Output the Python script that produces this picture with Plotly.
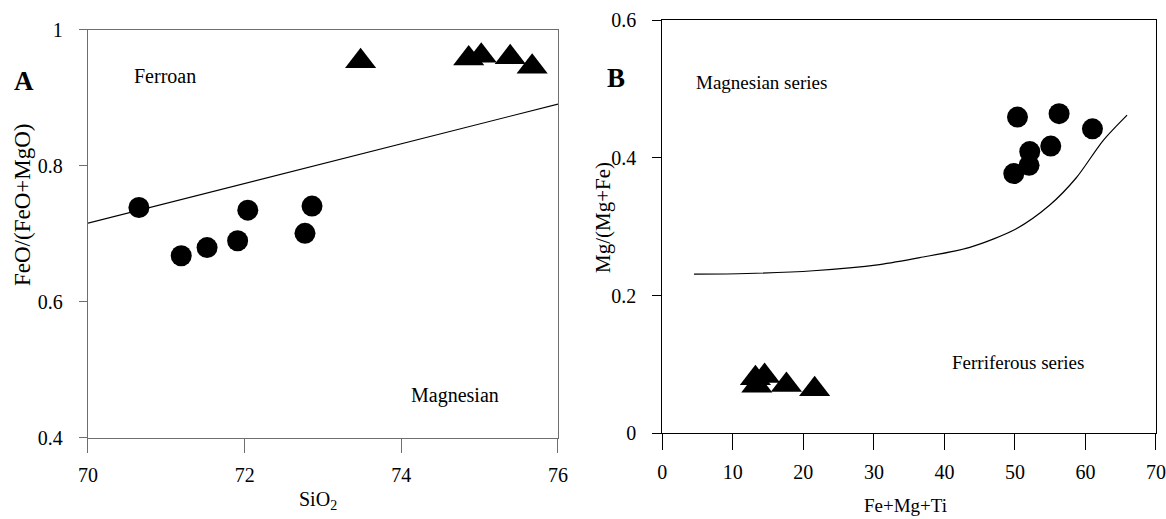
import plotly.graph_objects as go

# ---- Panel A: SiO2 vs FeO/(FeO+MgO) ----
a_circle_sio2 = [70.65, 71.19, 71.52, 71.91, 72.04, 72.77, 72.86]
a_circle_ratio = [0.739, 0.668, 0.680, 0.690, 0.735, 0.701, 0.741]
a_triangle_sio2 = [73.48, 74.86, 75.02, 75.39, 75.67]
a_triangle_ratio = [0.954, 0.958, 0.962, 0.960, 0.946]
a_boundary_sio2 = [70, 76]
a_boundary_ratio = [0.716, 0.891]
a_xticks = [70, 72, 74, 76]
a_yticks = [0.4, 0.6, 0.8, 1.0]
a_ytick_labels = ["0.4", "0.6", "0.8", "1"]

# ---- Panel B: Fe+Mg+Ti vs Mg/(Mg+Fe) ----
b_circle_sum = [50.36, 56.26, 60.99, 55.08, 52.10, 52.00, 49.84]
b_circle_ratio = [0.459, 0.464, 0.442, 0.417, 0.409, 0.389, 0.377]
b_triangle_sum = [13.2, 14.5, 13.4, 17.6, 21.6]
b_triangle_ratio = [0.080, 0.083, 0.069, 0.070, 0.064]
b_boundary_sum = [4.5, 12.0, 21.4, 30.8, 36.5, 43.6, 50.2, 54.9, 58.7, 62.5, 65.9]
b_boundary_ratio = [0.231, 0.232, 0.236, 0.245, 0.255, 0.270, 0.297, 0.331, 0.371, 0.425, 0.462]
b_xticks = [0, 10, 20, 30, 40, 50, 60, 70]
b_yticks = [0, 0.2, 0.4, 0.6]
b_ytick_labels = ["0", "0.2", "0.4", "0.6"]

FONT = "Liberation Serif, Times New Roman, serif"
GREY = "#6e6e6e"

fig = go.Figure()

# Panel A traces
fig.add_trace(go.Scatter(x=a_boundary_sio2, y=a_boundary_ratio, mode="lines",
                         line=dict(color="black", width=1.1), xaxis="x", yaxis="y",
                         hoverinfo="skip"))
fig.add_trace(go.Scatter(x=a_circle_sio2, y=a_circle_ratio, mode="markers",
                         marker=dict(symbol="circle", size=21, color="black"),
                         xaxis="x", yaxis="y", cliponaxis=False))
fig.add_trace(go.Scatter(x=a_triangle_sio2, y=a_triangle_ratio, mode="markers",
                         marker=dict(symbol="triangle-up", size=27, color="black"),
                         xaxis="x", yaxis="y", cliponaxis=False))

# Panel B traces
fig.add_trace(go.Scatter(x=b_boundary_sum, y=b_boundary_ratio, mode="lines",
                         line=dict(color="black", width=1.2, shape="spline", smoothing=0.8),
                         xaxis="x2", yaxis="y2", hoverinfo="skip"))
fig.add_trace(go.Scatter(x=b_circle_sum, y=b_circle_ratio, mode="markers",
                         marker=dict(symbol="circle", size=21, color="black"),
                         xaxis="x2", yaxis="y2", cliponaxis=False))
fig.add_trace(go.Scatter(x=b_triangle_sum, y=b_triangle_ratio, mode="markers",
                         marker=dict(symbol="triangle-up", size=27, color="black"),
                         xaxis="x2", yaxis="y2", cliponaxis=False))

tickfont = dict(family=FONT, size=20, color="black")

def axis(domain, rng, tickvals, ticktext, color, ticklen, standoff, anchor):
    return dict(domain=domain, range=rng, tickvals=tickvals, ticktext=ticktext,
                showline=True, linecolor=color, linewidth=1.3, mirror=True,
                ticks="outside", ticklen=ticklen, tickcolor=color, tickwidth=1.3,
                showgrid=False, zeroline=False, tickfont=tickfont,
                ticklabelstandoff=standoff, anchor=anchor, automargin=False,
                fixedrange=True)

fig.update_layout(
    width=1166, height=519,
    margin=dict(l=0, r=0, t=0, b=0),
    paper_bgcolor="white", plot_bgcolor="white",
    font=dict(family=FONT, color="black"),
    showlegend=False,
    xaxis=axis([0.07547, 0.47856], [70, 76], a_xticks, [str(v) for v in a_xticks],
               GREY, 14, 5, "y"),
    yaxis=axis([0.15607, 0.94220], [0.4, 1.0], a_yticks, a_ytick_labels,
               GREY, 8, 12, "x"),
    xaxis2=axis([0.56801, 0.99142], [0, 70], b_xticks, [str(v) for v in b_xticks],
                "black", 16, 5, "y2"),
    yaxis2=axis([0.16513, 0.96146], [0, 0.6], b_yticks, b_ytick_labels,
                "black", 9, 12, "x2"),
)

ann_font = dict(family=FONT, size=20, color="black")
annotations = [
    # region labels, panel A
    dict(x=70.98, y=0.933, xref="x", yref="y", text="Ferroan", showarrow=False,
         font=ann_font, xanchor="center", yanchor="middle"),
    dict(x=74.69, y=0.463, xref="x", yref="y", text="Magnesian", showarrow=False,
         font=ann_font, xanchor="center", yanchor="middle"),
    # region labels, panel B
    dict(x=14.1, y=0.509, xref="x2", yref="y2", text="Magnesian series", showarrow=False,
         font=dict(family=FONT, size=19, color="black"), xanchor="center", yanchor="middle"),
    dict(x=50.45, y=0.103, xref="x2", yref="y2", text="Ferriferous series", showarrow=False,
         font=dict(family=FONT, size=19, color="black"), xanchor="center", yanchor="middle"),
    # panel letters
    dict(x=24 / 1166, y=1 - 81 / 519, xref="paper", yref="paper", text="<b>A</b>",
         showarrow=False, font=dict(family=FONT, size=27, color="black"),
         xanchor="center", yanchor="middle"),
    dict(x=616 / 1166, y=1 - 78 / 519, xref="paper", yref="paper", text="<b>B</b>",
         showarrow=False, font=dict(family=FONT, size=27, color="black"),
         xanchor="center", yanchor="middle"),
    # axis titles
    dict(x=22 / 1166, y=1 - 205 / 519, xref="paper", yref="paper", text="FeO/(FeO+MgO)",
         showarrow=False, textangle=-90, font=dict(family=FONT, size=23, color="black"),
         xanchor="center", yanchor="middle"),
    dict(x=318 / 1166, y=1 - 500 / 519, xref="paper", yref="paper", text="SiO<sub>2</sub>",
         showarrow=False, font=dict(family=FONT, size=20, color="black"),
         xanchor="center", yanchor="middle"),
    dict(x=603 / 1166, y=1 - 218 / 519, xref="paper", yref="paper", text="Mg/(Mg+Fe)",
         showarrow=False, textangle=-90, font=dict(family=FONT, size=21, color="black"),
         xanchor="center", yanchor="middle"),
    dict(x=905 / 1166, y=1 - 505 / 519, xref="paper", yref="paper", text="Fe+Mg+Ti",
         showarrow=False, font=dict(family=FONT, size=19, color="black"),
         xanchor="center", yanchor="middle"),
]
fig.update_layout(annotations=annotations)

fig.write_html("out.html")
